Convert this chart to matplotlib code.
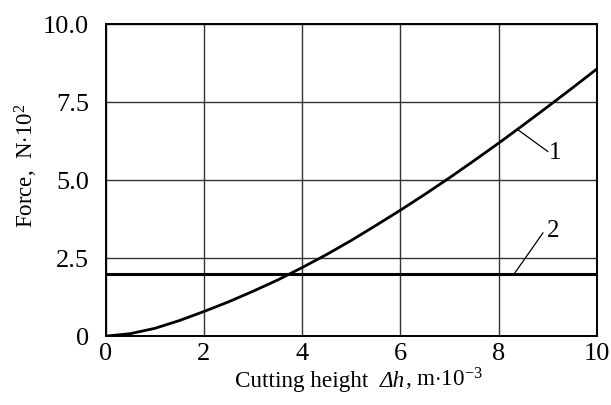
import matplotlib
matplotlib.use("Agg")
import matplotlib.pyplot as plt
from matplotlib.offsetbox import TextArea, HPacker, AnchoredOffsetbox

plt.rcParams['font.family'] = ['Liberation Serif', 'DejaVu Serif']
plt.rcParams['mathtext.fontset'] = 'custom'
plt.rcParams['mathtext.rm'] = 'Liberation Serif'
plt.rcParams['mathtext.it'] = 'Liberation Serif:italic'

# Curve 1 (force vs cutting height)
cut_height = [0, 0.5, 1, 1.5, 2, 2.5, 3, 3.5, 4, 4.5, 5, 5.5, 6, 6.5, 7, 7.5, 8, 8.5, 9, 9.5, 10]
force1 = [0, 0.08, 0.25, 0.50, 0.79, 1.10, 1.44, 1.80, 2.20, 2.62, 3.07, 3.55, 4.04,
          4.55, 5.08, 5.63, 6.19, 6.77, 7.36, 7.96, 8.57]
# Curve 2 (constant)
force2_x = [0, 10]
force2 = [2.0, 2.0]

x_ticks = [0, 2, 4, 6, 8, 10]
x_tick_labels = ["0", "2", "4", "6", "8", "10"]
y_ticks = [0, 2.5, 5.0, 7.5, 10.0]
y_tick_labels = ["0", "2.5", "5.0", "7.5", "10.0"]

fig = plt.figure(figsize=(6.11, 4.05), dpi=100)
ax = fig.add_axes([0.173, 0.170, 0.804, 0.770])

ax.plot(cut_height, force1, color='black', lw=2.0, solid_capstyle='butt', solid_joinstyle='round')
ax.plot(force2_x, force2, color='black', lw=2.2, solid_capstyle='butt')

ax.set_xlim(0, 10)
ax.set_ylim(0, 10)
ax.set_xticks(x_ticks)
ax.set_xticklabels(x_tick_labels)
ax.set_yticks(y_ticks)
ax.set_yticklabels(y_tick_labels)
ax.tick_params(length=0, labelsize=19)
ax.tick_params(axis='x', pad=5)
ax.tick_params(axis='y', pad=12)
ax.grid(True, color='#333333', lw=1.0)
for s in ax.spines.values():
    s.set_linewidth(1.4)
    s.set_color('black')

ax.set_ylabel(r"Force,  N$\cdot$10$^2$", fontsize=16.5)
ax.yaxis.set_label_coords(-0.133, 0.545)

# x label with italic Δh
fs = 16.7
parts = [
    TextArea("Cutting height  ", textprops=dict(fontsize=fs, family='Liberation Serif')),
    TextArea("Δh", textprops=dict(fontsize=fs, family='Liberation Serif', style='italic')),
    TextArea(r", m$\cdot$10$^{-3}$", textprops=dict(fontsize=fs, family='Liberation Serif')),
]
hp = HPacker(children=parts, align="baseline", pad=0, sep=0)
ab = AnchoredOffsetbox(loc='upper center', child=hp, pad=0, borderpad=0, frameon=False,
                       bbox_to_anchor=(359 / 611, 1 - 366 / 405), bbox_transform=fig.transFigure)
fig.add_artist(ab)

# Leader lines and curve labels
ax.plot([8.39, 9.0], [6.62, 5.92], color='black', lw=0.9)
ax.text(9.15, 5.88, "1", fontsize=18, ha='center', va='center')
ax.plot([8.33, 8.9], [2.03, 3.31], color='black', lw=0.9)
ax.text(9.1, 3.38, "2", fontsize=18, ha='center', va='center')

fig.savefig("out.png", dpi=100)
